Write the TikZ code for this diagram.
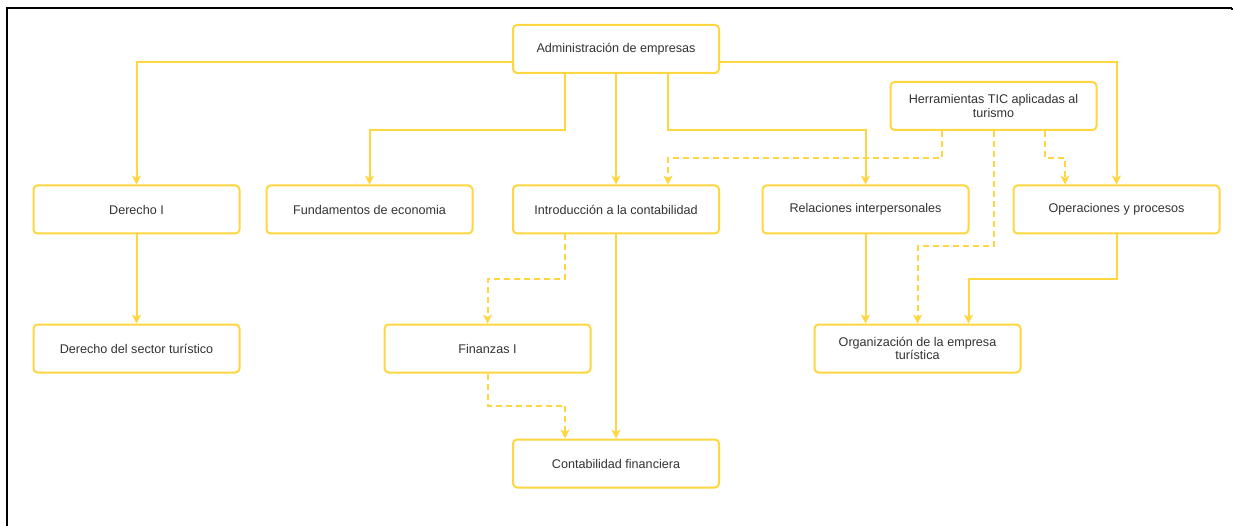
\documentclass[tikz,border=0pt]{standalone}
\usepackage{fontspec}
\setmainfont{Liberation Sans}
\usetikzlibrary{arrows.meta}
\definecolor{ylw}{RGB}{255,214,64}
\definecolor{txt}{RGB}{51,51,51}
\tikzset{
  box/.style={draw=ylw, line width=2pt, rounded corners=4pt, fill=white,
    minimum width=206pt, minimum height=48pt, inner sep=2pt, align=center,
    text=txt, font=\fontsize{12.6}{13.5}\selectfont},
  conn/.style={draw=ylw, line width=2pt, -{Stealth[length=9pt,width=9pt,inset=2.5pt]}},
  dconn/.style={conn, dash pattern=on 6pt off 4pt},
  frame/.style={draw=black}
}
\begin{document}
\begin{tikzpicture}[x=1pt,y=-1pt]
\useasboundingbox (0,0) rectangle (1233,526);
\draw[frame, line width=1.3pt] (6,8) -- (1232,8);
\draw[frame, line width=2pt] (7,8) -- (7,526);
\draw[frame, line width=1.3pt] (1232,8) -- (1232,10);

\node[box] (adm) at (616,49) {Administración de empresas};
\node[box] (der) at (136.5,209.5) {Derecho I};
\node[box] (fun) at (369.5,209.5) {Fundamentos de economia};
\node[box] (intro) at (616,209.5) {Introducción a la contabilidad};
\node[box] (rel) at (865.5,209.5) {Relaciones interpersonales};
\node[box] (ope) at (1116.5,209.5) {Operaciones y procesos};
\node[box] (her) at (993.5,106) {Herramientas TIC aplicadas al\\turismo};
\node[box] (dst) at (136.5,348.5) {Derecho del sector turístico};
\node[box] (fin) at (487.5,348.5) {Finanzas I};
\node[box] (cf) at (616,463.5) {Contabilidad financiera};
\node[box] (org) at (917.5,348.5) {Organización de la empresa\\turística};

\draw[conn] ([yshift=-13pt]adm.west) -| (der.north);
\draw[conn] ([yshift=-13pt]adm.east) -| (ope.north);
\draw[conn] ([xshift=-51pt]adm.south) -- ++(0,56) -| (fun.north);
\draw[conn] (adm.south) -- (intro.north);
\draw[conn] ([xshift=52pt]adm.south) -- ++(0,56) -| (rel.north);
\draw[dconn] ([xshift=-51.5pt]her.south) -- ++(0,27) -| ([xshift=52pt]intro.north);
\draw[dconn] (her.south) -- ++(0,115) -| (org.north);
\draw[dconn] ([xshift=51.5pt]her.south) -- ++(0,27) -| ([xshift=-51.5pt]ope.north);
\draw[conn] (der.south) -- (dst.north);
\draw[dconn] ([xshift=-51pt]intro.south) -- ++(0,45) -| (fin.north);
\draw[conn] (intro.south) -- (cf.north);
\draw[dconn] (fin.south) -- ++(0,32) -| ([xshift=-51pt]cf.north);
\draw[conn] (rel.south) -- (rel.south |- org.north);
\draw[conn] (ope.south) -- ++(0,45) -| ([xshift=51pt]org.north);
\end{tikzpicture}
\end{document}
